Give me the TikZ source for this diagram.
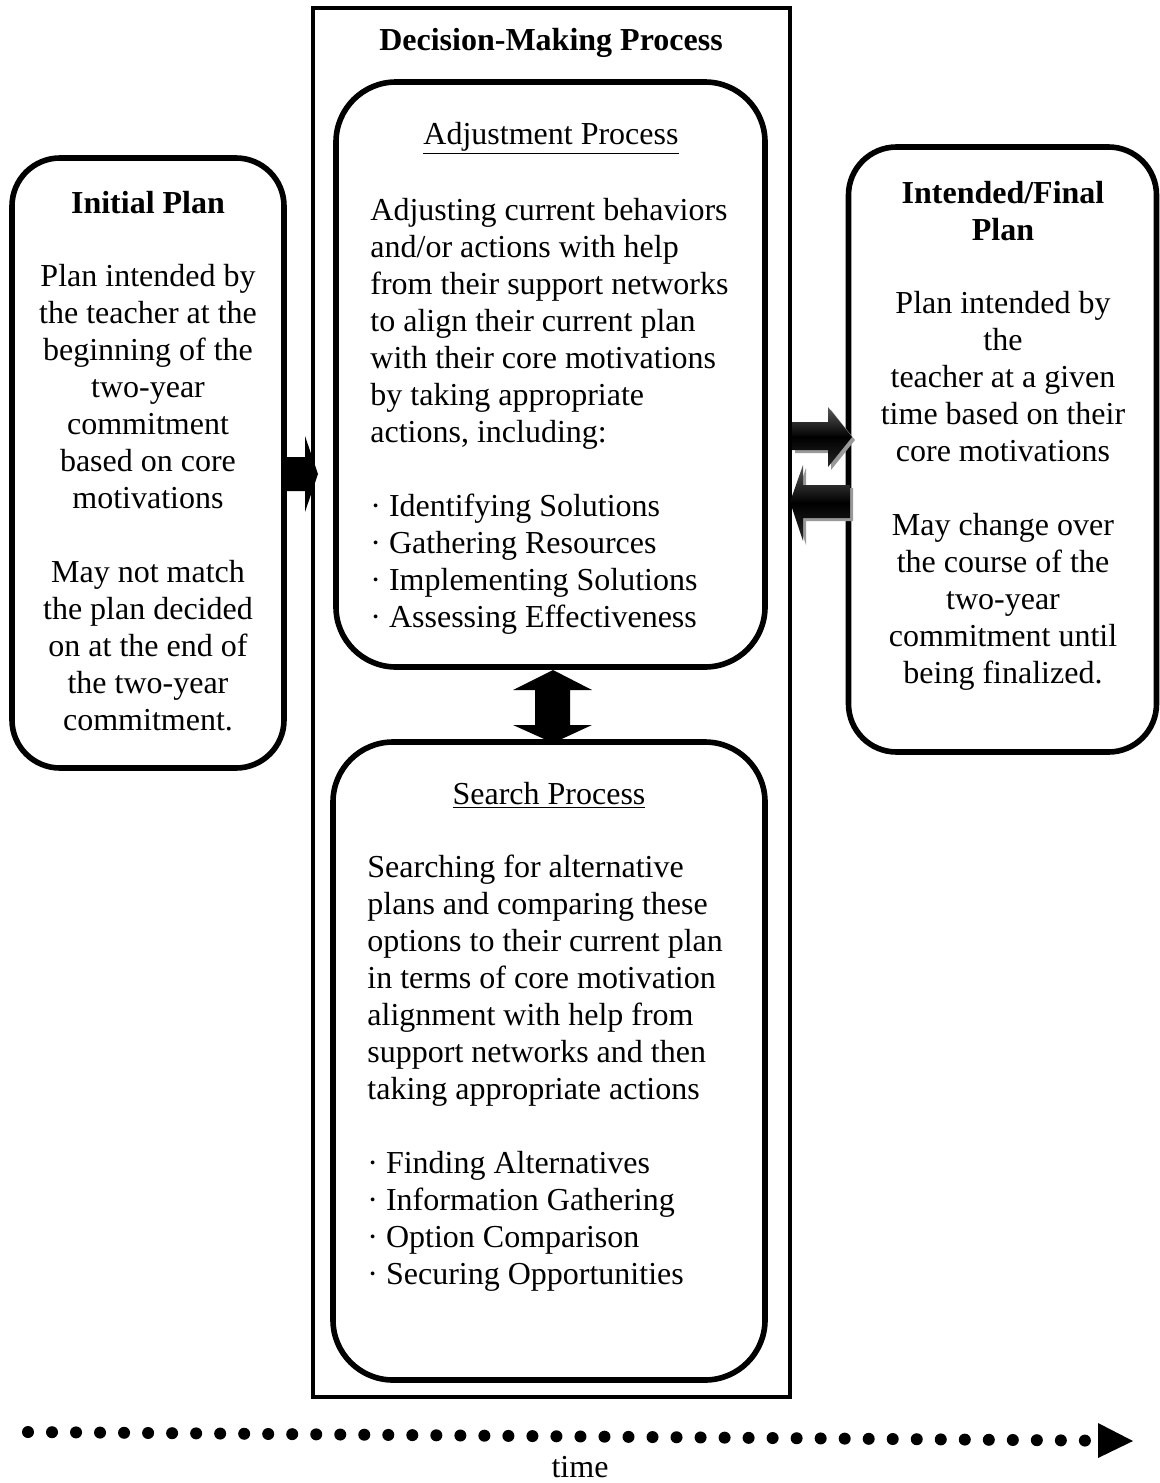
\documentclass[tikz,border=0pt]{standalone}
\usepackage{fontspec}
\setmainfont{Liberation Serif}
\begin{document}
\begin{tikzpicture}[x=0.5pt,y=-0.5pt,
  txt/.style={font=\fontsize{16}{18.5}\selectfont, inner sep=0pt},
  ttl/.style={font=\fontsize{16}{18.5}\selectfont\bfseries, inner sep=0pt},
  rbox/.style={draw, line width=2.8pt, rounded corners=30pt, inner sep=0pt},
  sidebox/.style={draw, line width=2.8pt, rounded corners=24pt, inner sep=0pt},
  blockarrow/.style={fill=black},
  shadedarrow/.style={top color=gray!70!black, bottom color=black!85, middle color=black},
  arrowshadow/.style={fill=gray!80}]
\useasboundingbox (0,0) rectangle (1160,1483);

% boxes
\node[draw, line width=2pt, minimum width=238.5pt, minimum height=694.5pt, inner sep=0pt] (dmp) at (551.5,702.5) {};
\node[rbox, minimum width=214.5pt, minimum height=292.5pt] (adj) at (550.5,374.5) {};
\node[rbox, minimum width=216pt, minimum height=319pt] (srch) at (549,1061) {};
\node[sidebox, minimum width=136pt, minimum height=305pt] (init) at (148,463) {};
\node[sidebox, minimum width=154pt, minimum height=302.5pt] (final) at (1002.5,449.5) {};

% titles
\node[ttl, anchor=base] (dmpt) at (551,50) {Decision-Making Process};
\node[txt, anchor=base] (adjt) at (551,144) {\underline{Adjustment Process}};
\node[txt, anchor=base] (srcht) at (549,804) {\underline{Search Process}};
\node[ttl, anchor=base] (initt) at (148,213) {Initial Plan};
\node[ttl, anchor=north, align=center] (finalt) at (1003,181) {Intended/Final\\Plan};

% bodies
\node[txt, anchor=north, align=center] (initb) at (148,264) {Plan intended by\\the teacher at the\\beginning of the\\two-year\\commitment\\based on core\\motivations\\[18.5pt]May not match\\the plan decided\\on at the end of\\the two-year\\commitment.};
\node[txt, anchor=north west, align=left] (adjb) at (370,198) {Adjusting current behaviors\\and/or actions with help\\from their support networks\\to align their current plan\\with their core motivations\\by taking appropriate\\actions, including:\\[18.5pt]· Identifying Solutions\\· Gathering Resources\\· Implementing Solutions\\· Assessing Effectiveness};
\node[txt, anchor=north west, align=left] (srchb) at (367,855) {Searching for alternative\\plans and comparing these\\options to their current plan\\in terms of core motivation\\alignment with help from\\support networks and then\\taking appropriate actions\\[18.5pt]· Finding Alternatives\\· Information Gathering\\· Option Comparison\\· Securing Opportunities};
\node[txt, anchor=north, align=center] (finalb) at (1003,291) {Plan intended by\\the\\teacher at a given\\time based on their\\core motivations\\[18.5pt]May change over\\the course of the\\two-year\\commitment until\\being finalized.};

% arrow: initial -> decision process
\fill[blockarrow] (284,457) -- (305,457) -- (305,436) -- (318,474) -- (305,512) -- (305,491) -- (284,491) -- cycle;

% arrows between decision process and final plan
\fill[arrowshadow] (795,425) -- (831,425) -- (831,410) -- (855,440) -- (831,470) -- (831,453) -- (795,453) -- cycle;
\shade[shadedarrow] (792,422) -- (828,422) -- (828,407) -- (852,437) -- (828,467) -- (828,450) -- (792,450) -- cycle;
\fill[arrowshadow] (853,488) -- (806,488) -- (806,468) -- (793,505) -- (806,545) -- (806,521) -- (853,521) -- cycle;
\shade[shadedarrow] (850,485) -- (803,485) -- (803,465) -- (790,502) -- (803,541) -- (803,518) -- (850,518) -- cycle;

% vertical double arrow
\fill[blockarrow] (553,670) -- (592,690) -- (570,690) -- (570,725) -- (592,725) -- (553,743) -- (513,725) -- (535,725) -- (535,690) -- (513,690) -- cycle;

% timeline
\foreach \i in {0,...,44}
  \fill ({28+24.02*\i},{1432+0.0081*24.02*\i}) circle (6);
\fill (1098,1423) -- (1133,1441) -- (1098,1458) -- cycle;
\node[txt, anchor=base] (time) at (580,1477) {time};
\end{tikzpicture}
\end{document}
